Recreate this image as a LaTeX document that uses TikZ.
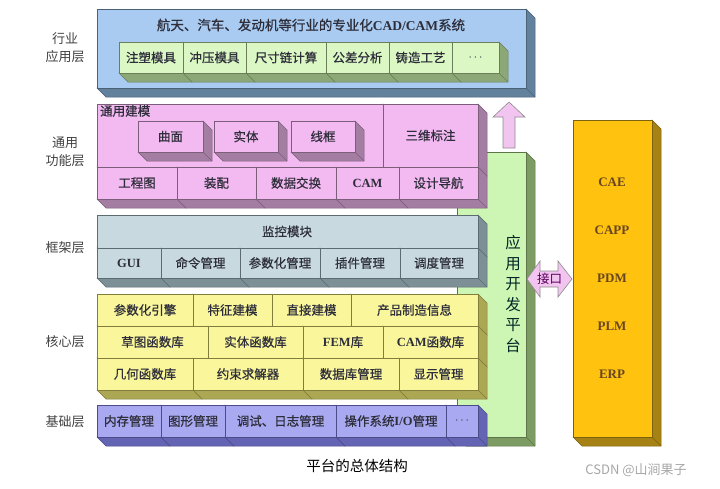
\documentclass[tikz,border=0pt]{standalone}
\usepackage{fontspec}
\setmainfont{Liberation Serif}
\newfontfamily\cjk[FakeBold=0.6]{Noto Sans CJK SC}
\newfontfamily\cjkplain{Noto Sans CJK SC}
\usetikzlibrary{positioning}

\definecolor{bluef}{HTML}{A9CBF2}
\definecolor{blues}{HTML}{62819C}
\definecolor{greenf}{HTML}{DAF7C4}
\definecolor{greens}{HTML}{8DA877}
\definecolor{pinkf}{HTML}{F3B9F1}
\definecolor{pinks}{HTML}{A47DA3}
\definecolor{grayf}{HTML}{C8DAE0}
\definecolor{grays}{HTML}{7C9096}
\definecolor{yellowf}{HTML}{F9F69C}
\definecolor{yellows}{HTML}{ABA752}
\definecolor{purplef}{HTML}{A9A9F2}
\definecolor{purples}{HTML}{6464B4}
\definecolor{platf}{HTML}{CDF5B3}
\definecolor{plats}{HTML}{7D9C63}
\definecolor{orangef}{HTML}{FFC20E}
\definecolor{oranges}{HTML}{A58213}
\definecolor{arrowf}{HTML}{F2C4F0}
\definecolor{txt}{HTML}{2E2E3A}

\newcommand{\dep}{9}
\newcommand{\en}{\rmfamily\bfseries}
% front face (#1,#2)-(#3,#4), face colour #5, side colour #6
\newcommand{\slab}[6]{%
  \filldraw[fill=#6, draw=#6!75!black, line width=0.5pt]
    (#1,#4) -- (#1+\dep,#4+\dep) -- (#3+\dep,#4+\dep) -- (#3+\dep,#2+\dep) -- (#3,#2) -- (#3,#4) -- cycle;
  \draw[#6!75!black, line width=0.5pt] (#3,#4) -- (#3+\dep,#4+\dep);
  \filldraw[fill=#5, draw=#6!75!black, line width=0.6pt] (#1,#2) rectangle (#3,#4);
}

\begin{document}
\begin{tikzpicture}[x=1pt, y=-1pt,
  cell/.style={font=\cjk\fontsize{12.5}{14}\selectfont, text=txt, inner sep=0pt},
  layer/.style={font=\cjkplain\fontsize{13}{18}\selectfont, text=black!75, align=center},
  sys/.style={font=\en\fontsize{13}{15}\selectfont, text=brown!55!black}]
  \useasboundingbox (0,0) rectangle (720,488);

  % application platform, behind the layers
  \slab{457}{152}{526}{437}{platf}{plats}
  \node[font=\cjkplain\fontsize{15.5}{20.5}\selectfont, align=center, text=teal!30!black] (plat) at (513,294) {应\\用\\开\\发\\平\\台};

  % industry layer
  \slab{97}{9}{526}{88}{bluef}{blues}
  \node[cell, font=\cjk\fontsize{13.5}{15}\selectfont] (hytitle) at (311,25) {航天、汽车、发动机等行业的专业化{\en CAD/CAM}系统};
  \foreach \a/\b/\t [count=\i] in {119/183/注塑模具, 183/246/冲压模具, 246/326/尺寸链计算, 326/389/公差分析, 389/452/铸造工艺, 452/499/{$\cdots$}} {
    \slab{\a}{42}{\b}{73}{greenf}{greens}
    \node[cell] (hy\i) at ({(\a+\b)/2},57.5) {\t};
  }

  % general function layer
  \slab{97}{104}{383}{167}{pinkf}{pinks}
  \slab{383}{104}{478}{167}{pinkf}{pinks}
  \node[cell, anchor=north west] (tymod) at (100,105) {通用建模};
  \node[cell] (tybz) at (430.5,135.5) {三维标注};
  \foreach \a/\b/\t [count=\i] in {138/203/曲面, 214/278/实体, 291/355/线框} {
    \slab{\a}{121}{\b}{152}{pinkf}{pinks}
    \node[cell] (tyjm\i) at ({(\a+\b)/2},136.5) {\t};
  }
  \foreach \a/\b/\t [count=\i] in {97/177/工程图, 177/256/装配, 256/336/数据交换, 336/399/{\en CAM}, 399/478/设计导航} {
    \slab{\a}{167}{\b}{199}{pinkf}{pinks}
    \node[cell] (ty\i) at ({(\a+\b)/2},183) {\t};
  }

  % framework layer
  \slab{97}{215}{478}{248}{grayf}{grays}
  \node[cell] (kjtitle) at (287,231.5) {监控模块};
  \foreach \a/\b/\t [count=\i] in {97/161/{\en GUI}, 161/240/命令管理, 240/320/参数化管理, 320/400/插件管理, 400/478/调度管理} {
    \slab{\a}{248}{\b}{278}{grayf}{grays}
    \node[cell] (kj\i) at ({(\a+\b)/2},263) {\t};
  }

  % core layer
  \foreach \a/\b/\t [count=\i] in {97/193/参数化引擎, 193/272/特征建模, 272/351/直接建模, 351/478/产品制造信息} {
    \slab{\a}{294}{\b}{326}{yellowf}{yellows}
    \node[cell] (hxa\i) at ({(\a+\b)/2},310) {\t};
  }
  \foreach \a/\b/\t [count=\i] in {97/208/草图函数库, 208/303/实体函数库, 303/383/{{\en FEM}库}, 383/478/{{\en CAM}函数库}} {
    \slab{\a}{326}{\b}{358}{yellowf}{yellows}
    \node[cell] (hxb\i) at ({(\a+\b)/2},342) {\t};
  }
  \foreach \a/\b/\t [count=\i] in {97/193/几何函数库, 193/303/约束求解器, 303/399/数据库管理, 399/478/显示管理} {
    \slab{\a}{358}{\b}{390}{yellowf}{yellows}
    \node[cell] (hxc\i) at ({(\a+\b)/2},374) {\t};
  }

  % base layer
  \foreach \a/\b/\t [count=\i] in {97/161/内存管理, 161/225/图形管理, 225/336/调试、日志管理, 336/446/{操作系统{\en I/O}管理}, 446/478/{$\cdots$}} {
    \slab{\a}{405}{\b}{437}{purplef}{purples}
    \node[cell] (jc\i) at ({(\a+\b)/2},421) {\t};
  }

  % layer names
  \node[layer] (lhy) at (65,48) {行业\\应用层};
  \node[layer] (lty) at (65,152) {通用\\功能层};
  \node[layer] (lkj) at (65,248) {框架层};
  \node[layer] (lhx) at (65,342) {核心层};
  \node[layer] (ljc) at (65,422) {基础层};

  % upward arrow
  \filldraw[fill=arrowf, draw=black!45, line width=0.6pt]
    (503,148) -- (503,117) -- (493,117) -- (509,102) -- (525,117) -- (515,117) -- (515,148) -- cycle;

  % interface arrow
  \filldraw[fill=arrowf, draw=black!45, line width=0.6pt]
    (527,279) -- (540,261) -- (540,271) -- (558,271) -- (558,261) -- (572,279)
    -- (558,297) -- (558,287) -- (540,287) -- (540,297) -- cycle;
  \node[cell, font=\cjkplain\fontsize{12.5}{14}\selectfont, text=violet!70!black] (jk) at (549.5,279) {接口};

  % enterprise systems
  \slab{573}{120}{652}{437}{orangef}{oranges}
  \foreach \t [count=\i] in {CAE, CAPP, PDM, PLM, ERP} {
    \pgfmathsetmacro\y{182+(\i-1)*48}
    \node[sys] (sys\i) at (612,\y) {\t};
  }

  \node[font=\cjkplain\fontsize{14.5}{16}\selectfont] (caption) at (357,466) {平台的总体结构};
  \node[font=\cjkplain\fontsize{13}{15}\selectfont, text=black!35] (mark) at (636,470) {CSDN @山涧果子};
\end{tikzpicture}
\end{document}
